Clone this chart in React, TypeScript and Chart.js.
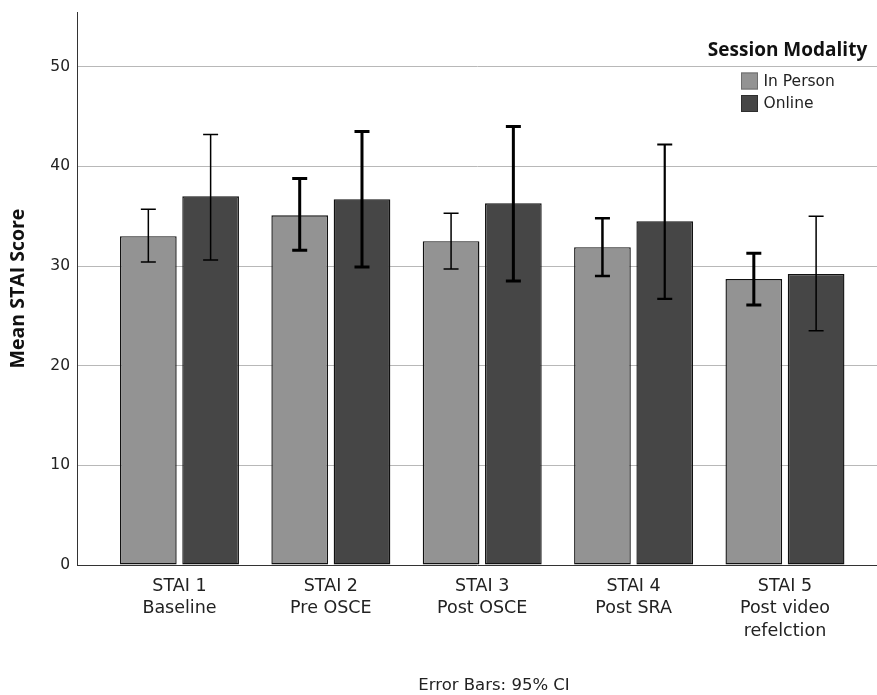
import { useEffect, useRef } from 'react';
import { Chart, registerables } from 'chart.js';

Chart.register(...registerables);

const CATEGORIES: string[][] = [
  ['STAI 1', 'Baseline'],
  ['STAI 2', 'Pre OSCE'],
  ['STAI 3', 'Post OSCE'],
  ['STAI 4', 'Post SRA'],
  ['STAI 5', 'Post video', 'refelction'],
];
const SERIES_NAMES = ['In Person', 'Online'];
const IN_PERSON = [33.0, 35.1, 32.5, 31.9, 28.7];
const IN_PERSON_LOW = [30.4, 31.6, 29.7, 29.0, 26.1];
const IN_PERSON_HIGH = [35.7, 38.8, 35.3, 34.8, 31.3];
const ONLINE = [37.0, 36.7, 36.3, 34.5, 29.2];
const ONLINE_LOW = [30.6, 29.9, 28.5, 26.7, 23.5];
const ONLINE_HIGH = [43.2, 43.5, 44.0, 42.2, 35.0];
const Y_TICKS = [0, 10, 20, 30, 40, 50];

// style-only (not data): error bar stroke widths per bar
const ERR_W_IN = [1.5, 3, 1.5, 2.5, 3];
const ERR_W_ON = [1.5, 3, 3, 2.2, 1.5];

const LIGHT = '#939393';
const DARK = '#464646';
const REG = '"DejaVu Sans", sans-serif';
const BOLD = '"Open Sans", "DejaVu Sans", sans-serif';

const overlay = {
  id: 'overlay',
  afterDatasetsDraw(chart: any) {
    const ctx = chart.ctx;
    const ys = chart.scales.y;
    const sets = [
      [IN_PERSON_LOW, IN_PERSON_HIGH, ERR_W_IN],
      [ONLINE_LOW, ONLINE_HIGH, ERR_W_ON],
    ];
    chart.data.datasets.forEach((_: any, di: number) => {
      const meta = chart.getDatasetMeta(di);
      meta.data.forEach((bar: any, i: number) => {
        const x = bar.x;
        const lo = ys.getPixelForValue(sets[di][0][i]);
        const hi = ys.getPixelForValue(sets[di][1][i]);
        ctx.save();
        ctx.strokeStyle = '#000';
        ctx.lineWidth = sets[di][2][i];
        ctx.beginPath();
        ctx.moveTo(x, lo);
        ctx.lineTo(x, hi);
        ctx.moveTo(x - 7.5, hi);
        ctx.lineTo(x + 7.5, hi);
        ctx.moveTo(x - 7.5, lo);
        ctx.lineTo(x + 7.5, lo);
        ctx.stroke();
        ctx.restore();
      });
    });
  },
  afterDraw(chart: any) {
    const ctx = chart.ctx;
    ctx.save();
    // legend title
    ctx.fillStyle = '#111';
    ctx.font = `bold 19px ${BOLD}`;
    ctx.textAlign = 'center';
    ctx.textBaseline = 'alphabetic';
    ctx.fillText('Session Modality', 787.5, 55.5);
    // legend items
    const cols = [LIGHT, DARK];
    const borders = ['#6e6e6e', '#2e2e2e'];
    const ys = [72.5, 95];
    SERIES_NAMES.forEach((name, i) => {
      ctx.fillStyle = cols[i];
      ctx.fillRect(741, ys[i], 17, 17);
      ctx.strokeStyle = borders[i];
      ctx.lineWidth = 1;
      ctx.strokeRect(741.5, ys[i] + 0.5, 16, 16);
      ctx.fillStyle = '#222';
      ctx.font = `15.5px ${REG}`;
      ctx.textAlign = 'left';
      ctx.textBaseline = 'middle';
      ctx.fillText(name, 763.5, ys[i] + 9);
    });
    // footnote
    ctx.fillStyle = '#222';
    ctx.font = `16.5px ${REG}`;
    ctx.textAlign = 'center';
    ctx.textBaseline = 'alphabetic';
    ctx.fillText('Error Bars: 95% CI', 494, 689.5);
    ctx.restore();
  },
};

export default function App() {
  const ref = useRef<HTMLCanvasElement>(null);
  useEffect(() => {
    document.body.style.margin = '0';
    const chart = new Chart(ref.current!, {
      type: 'bar',
      data: {
        datasets: [
          {
            label: SERIES_NAMES[0],
            data: IN_PERSON.map((v, i) => ({ x: i, y: v })),
            backgroundColor: LIGHT,
            borderColor: '#111',
            borderWidth: 1.4,
            borderSkipped: false,
          },
          {
            label: SERIES_NAMES[1],
            data: ONLINE.map((v, i) => ({ x: i, y: v })),
            backgroundColor: DARK,
            borderColor: '#111',
            borderWidth: 1.4,
            borderSkipped: false,
          },
        ],
      },
      options: {
        animation: false,
        responsive: false,
        maintainAspectRatio: false,
        categoryPercentage: 0.823,
        barPercentage: 0.91,
        layout: { padding: { top: 12, left: 0, right: 0, bottom: 0 } },
        plugins: {
          legend: { display: false },
          tooltip: { enabled: false },
        },
        scales: {
          x: {
            type: 'linear',
            offset: false,
            min: -0.677,
            max: 4.608,
            grid: { display: false, drawTicks: false },
            border: { display: true, color: '#333', width: 1 },
            afterBuildTicks: (axis: any) => {
              axis.ticks = CATEGORIES.map((_, i) => ({ value: i }));
            },
            afterFit: (axis: any) => {
              axis.height = 130;
              axis.paddingLeft = 0;
              axis.paddingRight = 0;
            },
            ticks: {
              autoSkip: false,
              maxRotation: 0,
              padding: 10,
              color: '#222',
              font: { family: REG, size: 17.5, lineHeight: 1.286 },
              callback: (v: any) => CATEGORIES[Math.round(Number(v))] ?? '',
            },
          },
          y: {
            min: 0,
            max: 55.5,
            afterBuildTicks: (axis: any) => {
              axis.ticks = Y_TICKS.map((v) => ({ value: v }));
            },
            afterFit: (axis: any) => {
              axis.width = 77;
              axis.paddingTop = 0;
              axis.paddingBottom = 0;
            },
            grid: {
              color: (c: any) => (c.tick && c.tick.value === 0 ? 'rgba(0,0,0,0)' : '#b8b8b8'),
              lineWidth: 1,
              drawTicks: false,
            },
            border: { display: true, color: '#333', width: 1 },
            ticks: {
              padding: 7,
              color: '#222',
              font: { family: REG, size: 15.5 },
            },
            title: {
              display: true,
              text: 'Mean STAI Score',
              color: '#111',
              font: { family: BOLD, size: 19.5, weight: 'bold' },
              padding: { top: 7, bottom: 0 },
            },
          },
        },
      },
      plugins: [overlay],
    } as any);
    return () => chart.destroy();
  }, []);
  return (
    <div style={{ position: 'absolute', left: 0, top: 0, width: 877, height: 695, background: '#fff' }}>
      <canvas ref={ref} width={877} height={695} style={{ display: 'block' }} />
    </div>
  );
}
